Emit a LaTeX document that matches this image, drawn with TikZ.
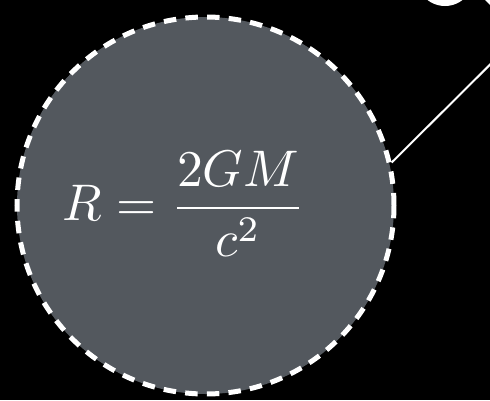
\documentclass[tikz,border=0pt]{standalone}
\usepackage{amsmath}
\usepackage{xcolor}
\usetikzlibrary{calc}
\definecolor{HorizonGrey}{HTML}{53585E}

\begin{document}
\begin{tikzpicture}[
  x=1pt, y=-1pt,
  horizon/.style={circle, draw=white, fill=HorizonGrey, line width=5pt, dash pattern=on 12.5pt off 9.2pt, minimum size=377pt, inner sep=0pt},
  formula/.style={text=white, scale=5.15, inner sep=0pt},
  pointer/.style={draw=white, line width=2pt}
]
  \fill[black] (0,0) rectangle (490,400);
  \useasboundingbox (0,0) rectangle (490,400);
  \begin{scope}
    \clip (0,0) rectangle (490,400);
    \node[horizon] (horizon) at (205.5,205.5) {};
    \node[formula] (radius) at (184,203.5) {$R = \dfrac{2GM}{c^2}$};
    \coordinate (labelend) at (560,-5);
    \draw[pointer] (horizon.13) -- (labelend);
    % cut-off lettering at the top edge
    \fill[white] (445,-26) ellipse (30 and 32);
    \fill[white] (485,0) -- (490,0) -- (490,5) -- cycle;
  \end{scope}
\end{tikzpicture}
\end{document}
